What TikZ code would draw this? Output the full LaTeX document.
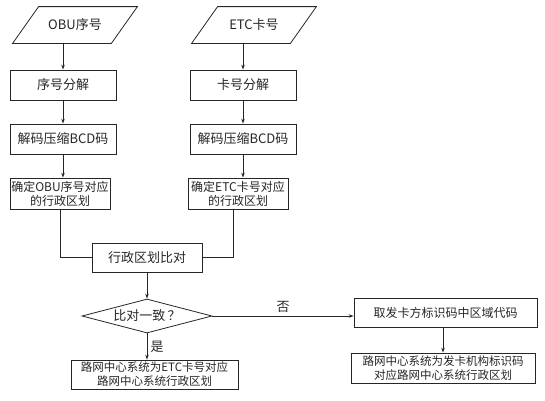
\documentclass[tikz,border=0pt]{standalone}
\usepackage{fontspec}
\setmainfont{Noto Sans CJK SC}
\usetikzlibrary{shapes.geometric,arrows.meta}

\begin{document}
\begin{tikzpicture}[x=1pt, y=-1pt, line width=0.8pt, draw=black!85, text=black!85,
        >={Stealth[length=5pt,width=3.5pt]},
        box/.style={draw, minimum height=30, inner sep=1pt, align=center, font=\fontsize{11.5}{14}\selectfont},
        bigtext/.style={font=\fontsize{13}{15}\selectfont},
        inbox/.style={minimum width=98, minimum height=36, inner sep=1pt, bigtext}]
        \useasboundingbox (0,0) rectangle (545,400);

        \node [inbox] (obu) at (75, 25) {OBU序号};
        \draw ([xshift=13]obu.north west) -- ([xshift=13]obu.north east) -- ([xshift=-13]obu.south east) -- ([xshift=-13]obu.south west) -- cycle;
        \node [inbox] (etc) at (254, 25) {ETC卡号};
        \draw ([xshift=13]etc.north west) -- ([xshift=13]etc.north east) -- ([xshift=-13]etc.south east) -- ([xshift=-13]etc.south west) -- cycle;

        \node [box, bigtext, minimum width=106] (xhfj) at (63, 85) {序号分解};
        \node [box, bigtext, minimum width=106] (khfj) at (243, 85) {卡号分解};
        \node [box, bigtext, minimum width=106] (bcdl) at (63, 139) {解码压缩BCD码};
        \node [box, bigtext, minimum width=106] (bcdr) at (243, 139) {解码压缩BCD码};
        \node [box, minimum width=100, minimum height=31, font=\fontsize{12}{14}\selectfont] (qdl) at (60, 193.5) {确定OBU序号对应\\的行政区划};
        \node [box, minimum width=100, minimum height=31, font=\fontsize{12}{14}\selectfont] (qdr) at (238, 193.5) {确定ETC卡号对应\\的行政区划};

        \node [box, bigtext, minimum width=110, minimum height=29] (bd) at (147, 257.5) {行政区划比对};
        \node [draw, diamond, minimum width=130, minimum height=34, inner sep=0pt, aspect=3.8, bigtext] (yz) at (147, 316) {比对一致\,？};

        \node [box, minimum width=167, minimum height=29] (jgl) at (154.5, 374.5) {路网中心系统为ETC卡号对应\\路网中心系统行政区划};
        \node [box, minimum width=183, minimum height=29, font=\fontsize{12}{14}\selectfont] (qdm) at (445.5, 312.5) {取发卡方标识码中区域代码};
        \node [box, minimum width=184] (jgr) at (443, 368) {路网中心系统为发卡机构标识码\\对应路网中心系统行政区划};

        \draw [->] (obu.south -| xhfj) -- (xhfj);
        \draw [->] (xhfj) -- (bcdl);
        \draw [->] (bcdl.south) -- (bcdl.south |- qdl.north);
        \draw [->] (etc.south -| khfj) -- (khfj);
        \draw [->] (khfj) -- (bcdr);
        \draw [->] (bcdr.south) -- (bcdr.south |- qdr.north);

        \draw (qdl.south) |- (bd.west);
        \draw ([xshift=-5]qdr.south) |- (bd.east);
        \draw [->] (bd) -- (yz);

        \draw [->] (yz.south) -- (yz.south |- jgl.north) node [midway, right, bigtext] {是};
        \draw [->] (yz.east) -- (yz.east -| qdm.west) node [midway, above, bigtext] {否};
        \draw [->] (qdm.south -| jgr) -- (jgr);
    \end{tikzpicture}
\end{document}
